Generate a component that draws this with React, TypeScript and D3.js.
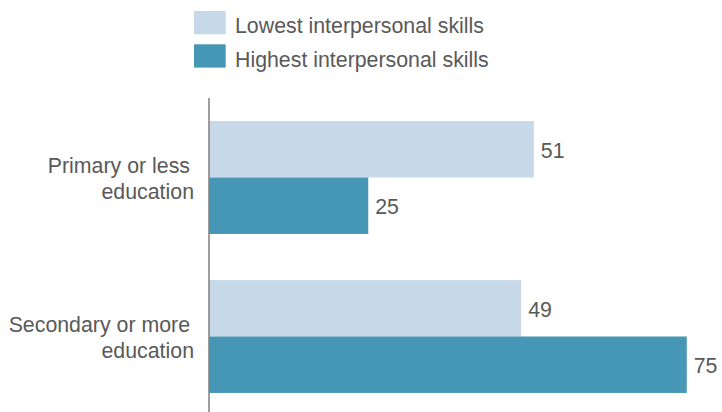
import React from "react";
import * as d3 from "d3";

const categories = ["Primary or less|education", "Secondary or more|education"];
const seriesNames = ["Lowest interpersonal skills", "Highest interpersonal skills"];
const lowest = [51, 49];
const highest = [25, 75];
const colors = ["#c7d9e8", "#4696b5"];

const W = 722;
const H = 412;
const FS = 21.33;
const TEXT = "#595959";

export default function App() {
  const x = d3.scaleLinear().domain([0, 100]).range([209, 846]);
  const y = d3.scaleBand<string>().domain(categories).range([98, 416]).paddingInner(0.29).paddingOuter(0.145);
  const sub = d3.scaleBand<number>().domain([0, 1]).range([0, y.bandwidth()]).padding(0);
  const series = [lowest, highest];

  return (
    <svg width={W} height={H} style={{ position: "absolute", left: 0, top: 0, fontFamily: "'Liberation Sans', Arial, sans-serif" }}>
      <rect width={W} height={H} fill="#fff" />
      {/* legend */}
      {seriesNames.map((s, i) => (
        <g key={s} transform={`translate(194,${11 + i * 33.3})`}>
          <rect width={31.7} height={23.3} fill={colors[i]} />
          <text x={41} y={22.3} fontSize={FS} fill={TEXT}>{s}</text>
        </g>
      ))}
      {/* bars */}
      {categories.map((c, ci) => (
        <g key={c}>
          {series.map((vals, si) => {
            const y0 = (y(c) as number) + (sub(si) as number);
            const bh = sub.bandwidth();
            return (
              <g key={si}>
                <rect x={x(0)} y={y0} width={x(vals[ci]) - x(0)} height={bh} fill={colors[si]} />
                <text x={x(vals[ci]) + 7} y={y0 + bh / 2 + 8.6} fontSize={FS} fill={TEXT}>{vals[ci]}</text>
              </g>
            );
          })}
          {c.split("|").map((line, li, arr) => {
            const center = (y(c) as number) + y.bandwidth() / 2;
            return (
              <text key={li} x={li === arr.length - 1 ? 194 : 190} y={center - 5 + li * 26} fontSize={FS} fill={TEXT} textAnchor="end">{line}</text>
            );
          })}
        </g>
      ))}
      {/* axis */}
      <line x1={x(0)} x2={x(0)} y1={98} y2={H} stroke="#7f7f7f" strokeWidth={1.5} />
    </svg>
  );
}
